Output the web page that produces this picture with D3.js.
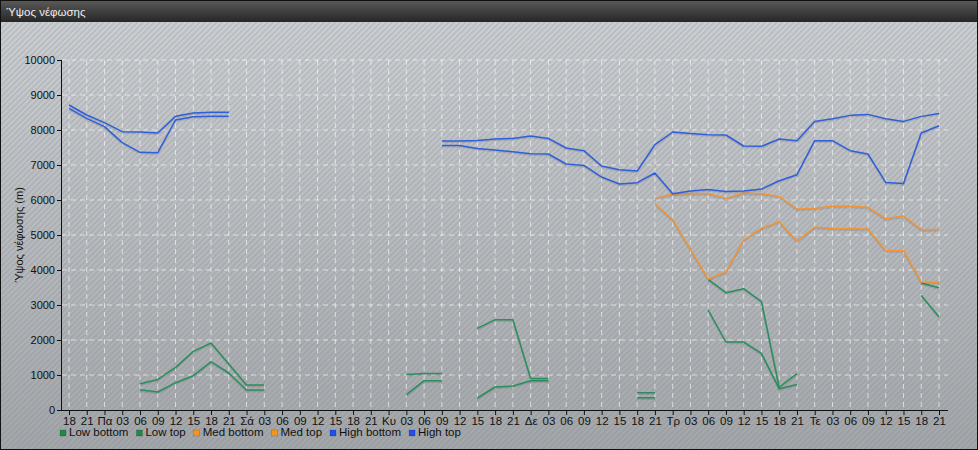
<!DOCTYPE html>
<html><head><meta charset="utf-8">
<script src="https://cdn.jsdelivr.net/npm/d3@7"></script>
<style>html,body{margin:0;padding:0;background:#fff;}svg{display:block;}</style>
</head><body>
<script>
const tickLabels = ["18","21","Πα","03","06","09","12","15","18","21","Σά","03","06","09","12","15","18","21","Κυ","03","06","09","12","15","18","21","Δε","03","06","09","12","15","18","21","Τρ","03","06","09","12","15","18","21","Τε","03","06","09","12","15","18","21"];
const yTicks = [0,1000,2000,3000,4000,5000,6000,7000,8000,9000,10000];
const N = null;
const lowBottom = [N,N,N,N,580,514,780,980,1380,1057,571,571,N,N,N,N,N,N,N,437,837,837,N,343,657,686,837,837,N,N,N,N,351,351,N,N,2857,1943,1943,1617,610,730,N,N,N,N,N,N,3274,2666];
const lowTop = [N,N,N,N,751,874,1217,1674,1914,1314,714,714,N,N,N,N,N,N,N,1017,1046,1046,N,2331,2580,2580,903,903,N,N,N,N,494,494,N,N,3731,3351,3466,3094,650,1040,N,N,N,N,N,N,3629,3494];
const medBottom = [N,N,N,N,N,N,N,N,N,N,N,N,N,N,N,N,N,N,N,N,N,N,N,N,N,N,N,N,N,N,N,N,N,5894,5437,4590,3743,3951,4857,5189,5380,4829,5229,5189,5180,5171,4551,4560,3657,3651];
const medTop = [N,N,N,N,N,N,N,N,N,N,N,N,N,N,N,N,N,N,N,N,N,N,N,N,N,N,N,N,N,N,N,N,N,6046,6171,6180,6189,6046,6200,6180,6103,5743,5760,5829,5820,5790,5466,5543,5151,5160];
const highBottom = [8619,8333,8095,7638,7362,7352,8286,8381,8390,8390,N,N,N,N,N,N,N,N,N,N,N,7560,7560,7474,7429,7380,7323,7314,7029,6989,6657,6457,6494,6771,6180,6257,6303,6246,6257,6314,6551,6723,7694,7694,7409,7314,6503,6474,7914,8123];
const highTop = [8714,8429,8210,7952,7943,7914,8390,8486,8505,8505,N,N,N,N,N,N,N,N,N,N,N,7686,7686,7703,7743,7760,7829,7760,7486,7409,6971,6866,6829,7580,7943,7903,7866,7857,7543,7533,7743,7694,8246,8323,8418,8446,8323,8246,8389,8474];
const seriesNames = ["Low bottom","Low top","Med bottom","Med top","High bottom","High top"];
const seriesValues = [lowBottom, lowTop, medBottom, medTop, highBottom, highTop];
const seriesColors = ["#2a8f5c","#2a8f5c","#f29432","#f29432","#2f5fd9","#2f5fd9"];
const legendColors = ["#1e8a45","#1e8a45","#f7941d","#f7941d","#1f4fe8","#1f4fe8"];

const W = 978, H = 450;
const font = "Liberation Sans, Arial, sans-serif";
const svg = d3.select("body").append("svg").attr("width", W).attr("height", H);
const defs = svg.append("defs");
const bg = defs.append("linearGradient").attr("id","bg").attr("x1",0).attr("y1",0).attr("x2",0).attr("y2",1);
bg.append("stop").attr("offset","0%").attr("stop-color","#cfd2d5");
bg.append("stop").attr("offset","100%").attr("stop-color","#a4a7aa");
const tb = defs.append("linearGradient").attr("id","tb").attr("x1",0).attr("y1",0).attr("x2",0).attr("y2",1);
tb.append("stop").attr("offset","0%").attr("stop-color","#5b5b5b");
tb.append("stop").attr("offset","100%").attr("stop-color","#262626");
const pat = defs.append("pattern").attr("id","stripes").attr("width",4).attr("height",4)
  .attr("patternUnits","userSpaceOnUse").attr("patternTransform","rotate(45)");
pat.append("line").attr("x1",1).attr("y1",0).attr("x2",1).attr("y2",4)
  .attr("stroke","rgba(120,125,135,0.35)").attr("stroke-width",1.3);

svg.append("rect").attr("x",0).attr("y",0).attr("width",W).attr("height",H).attr("fill","url(#bg)");
svg.append("rect").attr("x",0).attr("y",22).attr("width",W).attr("height",H-22).attr("fill","url(#stripes)");
svg.append("rect").attr("x",0).attr("y",0).attr("width",W).attr("height",22).attr("fill","url(#tb)");
svg.append("text").attr("x",6).attr("y",16).attr("fill","#f0f0f0")
  .attr("font-family",font).attr("font-size",11.5).text("Ύψος νέφωσης");
svg.append("rect").attr("x",0.5).attr("y",0.5).attr("width",W-1).attr("height",H-1)
  .attr("fill","none").attr("stroke","#111").attr("stroke-width",1);

const x = d3.scalePoint().domain(d3.range(tickLabels.length)).range([69, 939]);
const y = d3.scaleLinear().domain([0, 10000]).range([410, 60]);
const plotL = 62, plotR = 948;

const grid = svg.append("g");
grid.selectAll("line.h").data(yTicks.filter(d=>d>0)).join("line")
  .attr("x1",plotL).attr("x2",plotR).attr("y1",d=>y(d)).attr("y2",d=>y(d))
  .attr("stroke","rgba(255,255,255,0.6)").attr("stroke-dasharray","5,4").attr("stroke-width",1);
grid.selectAll("line.v").data(d3.range(tickLabels.length)).join("line")
  .attr("x1",d=>x(d)).attr("x2",d=>x(d)).attr("y1",y(10000)).attr("y2",y(0))
  .attr("stroke","rgba(255,255,255,0.6)").attr("stroke-dasharray","5,4").attr("stroke-width",1);

const line = d3.line().defined(d=>d.v!==null).x(d=>x(d.i)).y(d=>y(d.v));
seriesValues.forEach((vals, k) => {
  const pts = vals.map((v,i)=>({i, v}));
  svg.append("path").datum(pts).attr("d", line).attr("fill","none")
    .attr("stroke","rgba(60,60,80,0.15)").attr("stroke-width",2).attr("transform","translate(0,1.2)");
  svg.append("path").datum(pts).attr("d", line).attr("fill","none")
    .attr("stroke", seriesColors[k]).attr("stroke-width",1.5).attr("stroke-linejoin","round");
});

const yAxis = svg.append("g").attr("transform",`translate(${plotL},0)`)
  .call(d3.axisLeft(y).tickValues(yTicks).tickFormat(d3.format("d")).tickSize(5).tickPadding(2));
yAxis.select(".domain").attr("stroke","#111").attr("d",`M-0.5,${y(10000)}V${y(0)}`);
yAxis.selectAll("line").attr("stroke","#111");
yAxis.selectAll("text").attr("fill","#111").attr("font-family",font).attr("font-size",11);

const xAxis = svg.append("g").attr("transform",`translate(0,${y(0)})`)
  .call(d3.axisBottom(x).tickFormat(i=>tickLabels[i]).tickSize(5).tickPadding(2));
xAxis.select(".domain").attr("stroke","#111").attr("d",`M${plotL},0.5H${plotR}`);
xAxis.selectAll("line").attr("stroke","#111");
xAxis.selectAll("text").attr("fill","#111").attr("font-family",font).attr("font-size",11.5);

svg.append("text").attr("transform",`translate(23,${(y(0)+y(10000))/2}) rotate(-90)`)
  .attr("text-anchor","middle").attr("fill","#111").attr("font-family",font).attr("font-size",11)
  .text("Ύψος νέφωσης (m)");

const lg = svg.append("g").attr("transform","translate(60,427)");
let lx = 0;
seriesNames.forEach((name,k)=>{
  const g = lg.append("g").attr("transform",`translate(${lx},0)`);
  g.append("rect").attr("x",0).attr("y",3).attr("width",6).attr("height",6)
    .attr("fill",legendColors[k]).attr("stroke","rgba(0,0,0,0.3)").attr("stroke-width",0.5);
  const t = g.append("text").attr("x",9).attr("y",9).attr("fill","#111")
    .attr("font-family",font).attr("font-size",11.5).text(name);
  lx += 9 + t.node().getComputedTextLength() + 8;
});
</script>
</body></html>
